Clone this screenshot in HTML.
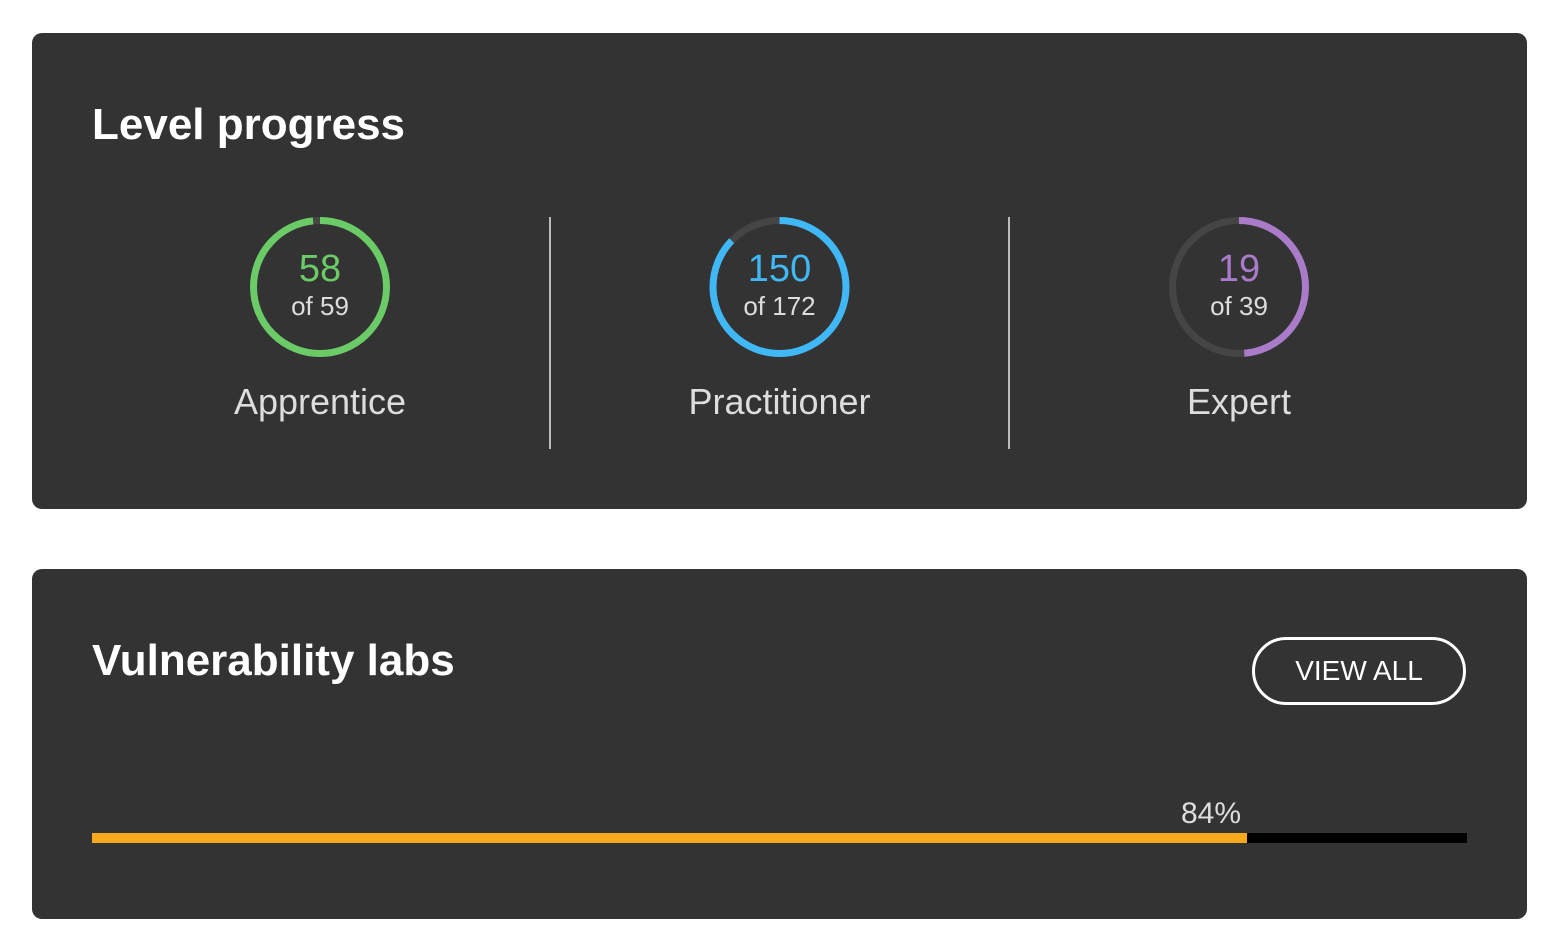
<!DOCTYPE html>
<html><head><meta charset="utf-8"><style>
body{margin:0;width:1558px;height:948px;background:#fff;font-family:"Liberation Sans",Arial,sans-serif;position:relative;overflow:hidden}
.card{position:absolute;left:32px;width:1495px;background:#333;border-radius:10px}
.title{position:absolute;left:60px;color:#fff;font-weight:bold;font-size:44px;margin:0}
.div{position:absolute;top:184px;width:2px;height:232px;background:#bbb}
.btn{position:absolute;left:1220px;top:604px;width:208px;height:62px;border:3px solid #fff;border-radius:34px;color:#fff;font-size:28px;text-align:center;line-height:62px;box-sizing:content-box}
</style></head><body>
<div class="card" style="top:33px;height:476px">
<h2 class="title" style="top:67px">Level progress</h2>
<div class="div" style="left:517px"></div>
<div class="div" style="left:976px"></div>
</div>
<div class="card" style="top:569px;height:350px">
<h2 class="title" style="top:67px">Vulnerability labs</h2>
</div>
<div class="btn" style="left:1252px;top:637px;width:208px">VIEW ALL</div>
<svg id="chart" width="1558" height="948" style="position:absolute;left:0;top:0"></svg>
<script>
const levels=["Apprentice","Practitioner","Expert"];
const done=[58,150,19];
const totals=[59,172,39];
const colors=["#6bcb66","#3fb8f5","#a97bc9"];
const labPercent=84;
const NS="http://www.w3.org/2000/svg";
const svg=document.getElementById('chart');
function mk(t,a){const e=document.createElementNS(NS,t);for(const k in a)e.setAttribute(k,a[k]);svg.appendChild(e);return e;}
const xc=i=>320+i*459.5, cy=287, r=66.5, C=2*Math.PI*r;
levels.forEach((name,i)=>{
 const x=xc(i);
 const tr=mk('circle',{cx:x,cy:cy,r:r,fill:'none',stroke:'#454545','stroke-width':7});
 
 
 const frac=done[i]/totals[i];
 const a=mk('circle',{cx:x,cy:cy,r:r,fill:'none',stroke:colors[i],'stroke-width':7,'stroke-dasharray':(C*frac)+' '+C,transform:`rotate(-90 ${x} ${cy})`});
 
 
 const n=mk('text',{x:x,y:281,'text-anchor':'middle','font-size':38,fill:colors[i],'font-family':'Liberation Sans, sans-serif'});n.textContent=done[i];
 
 
 const o=mk('text',{x:x,y:315,'text-anchor':'middle','font-size':26,fill:'#ddd','font-family':'Liberation Sans, sans-serif'});o.textContent='of '+totals[i];
 
 
 const l=mk('text',{x:x,y:414,'text-anchor':'middle','font-size':36,fill:'#ddd','font-family':'Liberation Sans, sans-serif'});l.textContent=name;
 
 
});
const bx0=92,bx1=1467,by=833,bh=10;
const bw=v=>(bx1-bx0)*v/100;
const bg=mk('rect',{x:bx0,y:by,width:bx1-bx0,height:bh,fill:'#000'});


const fg=mk('rect',{x:bx0,y:by,width:bw(labPercent),height:bh,fill:'#f5a91b'});


const pt=mk('text',{x:bx0+bw(labPercent)-6,y:823,'text-anchor':'end','font-size':30,fill:'#ddd','font-family':'Liberation Sans, sans-serif'});pt.textContent=labPercent+'%';


</script>
</body></html>
